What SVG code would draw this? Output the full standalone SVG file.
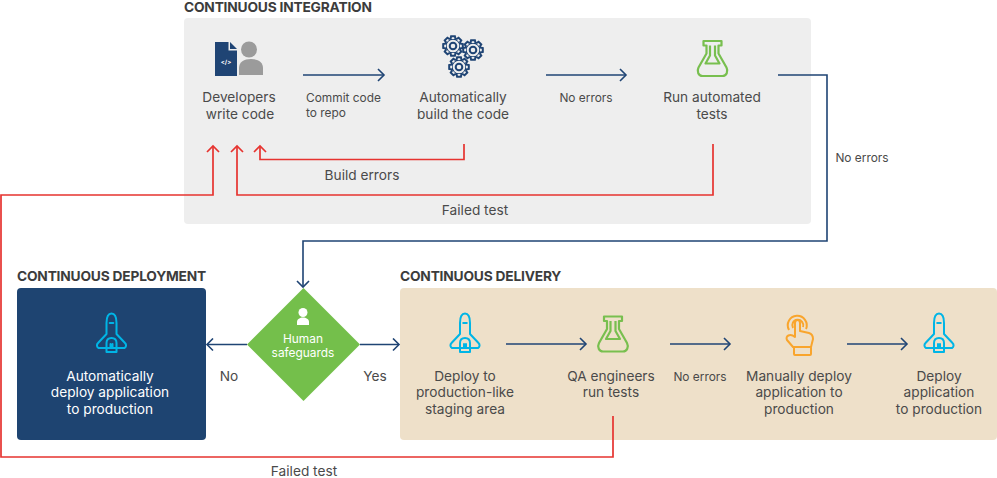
<svg xmlns="http://www.w3.org/2000/svg" xmlns:xlink="http://www.w3.org/1999/xlink" width="997" height="478" viewBox="0 0 997 478">
<style>
text{font-family:"Inter","Liberation Sans",sans-serif;font-size:13.700px;fill:#4a4a4a;text-anchor:middle}
.h{font-size:13.750px;font-weight:700;fill:#3c3c3c;text-anchor:start;letter-spacing:-.2px}
.s{font-size:11.900px}
.w{fill:#fff}
.blue{fill:none;stroke:#1f4474;stroke-width:1.6}
.red{fill:none;stroke:#e6332f;stroke-width:1.7}
.rk{fill:none;stroke:#00b5e6;stroke-width:2;stroke-linejoin:round;stroke-linecap:round}
.fl{fill:none;stroke:#78bf4f;stroke-width:2.200;stroke-linejoin:round}
.gear{fill:none;stroke:#1f4474;stroke-width:2}
</style>
<defs>
<marker id="ab" markerUnits="userSpaceOnUse" markerWidth="14" markerHeight="14" refX="11" refY="7" orient="auto"><path d="M5,1 L11,7 L5,13" fill="none" stroke="#1f4474" stroke-width="1.6"/></marker>
<marker id="ar" markerUnits="userSpaceOnUse" markerWidth="14" markerHeight="14" refX="11" refY="7" orient="auto"><path d="M5,1 L11,7 L5,13" fill="none" stroke="#e6332f" stroke-width="1.7"/></marker>
<g id="rocket">
<path class="rk" d="M0,-19.500 C-3.500,-19.500 -5,-15 -5,-10 V1 L-13.500,10 C-15,11.500 -15,14 -13,15 H13 C15,14 15,11.500 13.500,10 L5,1 V-10 C5,-15 3.500,-19.500 0,-19.500 Z"/>
<path class="rk" d="M-1.800,-10 H1.800 M-5,10 C-5,6.500 -3,5 0,5 C3,5 5,6.500 5,10 V19 H-5 Z M-1,11 V15 M1,11 V15"/>
</g>
<g id="flask">
<path class="fl" d="M-9,-17.500 H9 V-13 H6 V-5 L14,9 C16,13 14,17.500 10,17.500 H-10 C-14,17.500 -16,13 -14,9 L-6,-5 V-13 H-9 Z"/>
<path class="fl" d="M-2.500,-13 V-3 L-7,5 H7 L2.500,-3 V-13"/>
</g>
<g id="gear">
<circle class="gear" r="7.300"/><circle class="gear" r="3.300"/>
<g id="tooth"><path d="M-2.500,-7 L-1.900,-9.800 H1.900 L2.500,-7" class="gear" style="fill:#eee"/></g>
<use xlink:href="#tooth" transform="rotate(45)"/><use xlink:href="#tooth" transform="rotate(90)"/><use xlink:href="#tooth" transform="rotate(135)"/><use xlink:href="#tooth" transform="rotate(180)"/><use xlink:href="#tooth" transform="rotate(225)"/><use xlink:href="#tooth" transform="rotate(270)"/><use xlink:href="#tooth" transform="rotate(315)"/>
</g>
</defs>
<rect width="997" height="478" fill="#fff"/>
<g id="panels">
<rect id="ci-panel" x="184" y="18" width="627" height="206" rx="4" fill="#eeeeee"/>
<rect id="cdep-panel" x="17" y="288" width="189" height="152" rx="4" fill="#1e4471"/>
<rect id="cdel-panel" x="400" y="288" width="597" height="152" rx="4" fill="#eee0c9"/>
<text class="h" x="184" y="12">CONTINUOUS INTEGRATION</text>
<text class="h" x="17" y="281">CONTINUOUS DEPLOYMENT</text>
<text class="h" x="400" y="281">CONTINUOUS DELIVERY</text>
</g>
<g id="connectors">
<path class="blue" d="M303,75 H384" marker-end="url(#ab)"/>
<path class="blue" d="M546,75 H626" marker-end="url(#ab)"/>
<path class="blue" d="M778,75 H827 V241 H303 V287" marker-end="url(#ab)"/>
<path class="blue" d="M247,344.500 H207" marker-end="url(#ab)"/>
<path class="blue" d="M360,344.500 H399" marker-end="url(#ab)"/>
<path class="blue" d="M506,344 H586" marker-end="url(#ab)"/>
<path class="blue" d="M670,344 H730" marker-end="url(#ab)"/>
<path class="blue" d="M847,344 H907" marker-end="url(#ab)"/>
<path class="red" d="M464,144 V159.500 H260 V146" marker-end="url(#ar)"/>
<path class="red" d="M713,144 V195 H237 V146" marker-end="url(#ar)"/>
<path class="red" d="M613,416 V457 H1 V195 H213 V146" marker-end="url(#ar)"/>
<text class="s" x="306" y="102" style="text-anchor:start">Commit code</text>
<text class="s" x="306" y="117" style="text-anchor:start">to repo</text>
<text class="s" x="586" y="102">No errors</text>
<text class="s" x="862" y="162">No errors</text>
<text class="s" x="700" y="381">No errors</text>
<text x="362" y="180">Build errors</text>
<text x="475" y="215">Failed test</text>
<text x="304" y="476">Failed test</text>
<text x="229" y="381">No</text>
<text x="375" y="381">Yes</text>
</g>
<g id="developers">
<path d="M215,42 H228.500 V50.500 H237 V76 H215 Z" fill="#1f4474"/>
<path d="M230,42 L237,49 H230 Z" fill="#1f4474"/>
<text x="226" y="64" style="font-size:6px;font-weight:700;fill:#fff">&lt;/&gt;</text>
<circle cx="249" cy="49.500" r="8" fill="#9b9b9b"/>
<path d="M239,75 V68 C239,62 244,59 251,59 C258,59 263,62 263,68 V75 Z" fill="#9b9b9b"/>
<text x="239" y="102">Developers</text>
<text x="240" y="119">write code</text>
</g>
<g id="build">
<use xlink:href="#gear" x="453" y="46"/>
<use xlink:href="#gear" x="473" y="50"/>
<use xlink:href="#gear" x="459" y="67"/>
<text x="463" y="102">Automatically</text>
<text x="463" y="119">build the code</text>
</g>
<g id="tests">
<use xlink:href="#flask" x="712.500" y="58.500"/>
<text x="712" y="102">Run automated</text>
<text x="712" y="119">tests</text>
</g>
<g id="deployment">
<use xlink:href="#rocket" x="111.500" y="333"/>
<text class="w" x="110" y="381">Automatically</text>
<text class="w" x="110" y="397">deploy application</text>
<text class="w" x="110" y="414">to production</text>
</g>
<g id="safeguards">
<path d="M303.500,288 L360,344.500 L303.500,401 L247,344.500 Z" fill="#74bf4b"/>
<circle cx="303" cy="312.500" r="4.500" fill="#fff"/>
<path d="M297,325 V322 C297,319 300,317.500 303,317.500 C306,317.500 309,319 309,322 V325 Z" fill="#fff"/>
<text class="w s" x="303" y="343">Human</text>
<text class="w s" x="303" y="357">safeguards</text>
</g>
<g id="staging">
<use xlink:href="#rocket" x="465" y="333"/>
<text x="465" y="381">Deploy to</text>
<text x="465" y="397">production-like</text>
<text x="465" y="414">staging area</text>
</g>
<g id="qa">
<use xlink:href="#flask" x="613" y="334"/>
<text x="611" y="381">QA engineers</text>
<text x="611" y="397">run tests</text>
</g>
<g id="manual">
<g fill="none" stroke="#f9a52d" stroke-width="2" stroke-linejoin="round">
<path d="M789,330 A9.500,9.500 0 1 1 806,329"/>
<path d="M793,328 A5.500,5.500 0 1 1 803,327"/>
<path d="M795,337 V323 C795,319 800,319 800,323 V331 L809,333 C812,334 813,336 813,339 L811,347 H793 L787,340 C785,336 790,333 795,337 Z"/>
<rect x="794" y="347" width="17" height="8" rx="1"/>
</g>
<text x="799" y="381">Manually deploy</text>
<text x="799" y="397">application to</text>
<text x="799" y="414">production</text>
</g>
<g id="deploy">
<use xlink:href="#rocket" x="939" y="333"/>
<text x="939" y="381">Deploy</text>
<text x="939" y="397">application</text>
<text x="939" y="414">to production</text>
</g>
</svg>
